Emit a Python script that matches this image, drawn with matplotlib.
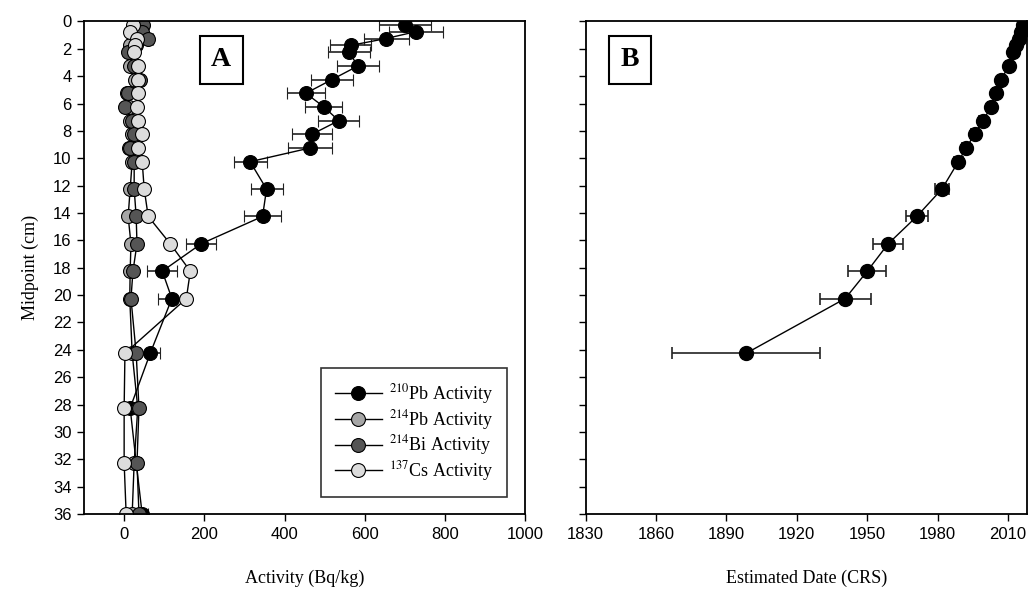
import matplotlib
matplotlib.use('Agg')
import matplotlib.pyplot as plt
from matplotlib.lines import Line2D

plt.rcParams['font.family'] = ['Liberation Serif', 'DejaVu Serif']
plt.rcParams['mathtext.fontset'] = 'stix'

# sample midpoints (cm)
depth = [0.25, 0.75, 1.25, 1.75, 2.25, 3.25, 4.25, 5.25, 6.25, 7.25, 8.25,
         9.25, 10.25, 12.25, 14.25, 16.25, 18.25, 20.25, 24.25, 28.25, 32.25, 36]

# activities (Bq/kg)
pb210 = [700, 727, 653, 565, 560, 583, 518, 453, 498, 535, 468, 463, 314, 355,
         345, 192, 95, 119, 65, 15, 30, 45]
pb210_err = [65, 68, 56, 51, 52, 52, 52, 48, 46, 51, 50, 54, 41, 40, 45, 37,
             37, 34, 25, 10, 12, 15]
pb214 = [30, 40, 28, 15, 18, 15, 27, 7, 12, 15, 20, 12, 20, 15, 10, 17, 15, 14,
         20, 34, 25, 20]
pb214_err = [10, 10, 10, 9, 9, 9, 10, 8, 8, 9, 9, 8, 9, 9, 8, 9, 9, 8, 9, 10, 9, 9]
bi214 = [47, 45, 60, 30, 10, 25, 40, 10, 2, 20, 25, 15, 25, 25, 30, 32, 22, 17,
         30, 37, 32, 37]
bi214_err = [10, 10, 12, 9, 8, 9, 10, 8, 8, 9, 9, 8, 9, 9, 9, 9, 9, 8, 9, 10, 10, 10]
cs137 = [22, 15, 32, 27, 25, 35, 35, 35, 32, 35, 45, 35, 45, 50, 60, 115, 165,
         155, 2, 0, 0, 5]
cs137_err = [6, 6, 7, 6, 6, 7, 7, 7, 7, 7, 8, 7, 8, 8, 8, 9, 9, 9, 5, 5, 5, 5]

# CRS model dates
crs_depth = [0.25, 0.75, 1.25, 1.75, 2.25, 3.25, 4.25, 5.25, 6.25, 7.25, 8.25,
             9.25, 10.25, 12.25, 14.25, 16.25, 18.25, 20.25, 24.25]
crs_year = [2016.5, 2015.5, 2014.5, 2013.5, 2012.3, 2010.3, 2007.0, 2004.9,
            2002.8, 1999.2, 1995.7, 1992.1, 1988.8, 1981.8, 1971.1, 1958.9,
            1950.0, 1940.6, 1898.4]
crs_err = [0.5, 0.5, 0.6, 0.7, 0.8, 1.0, 1.0, 1.2, 1.3, 1.4, 1.5, 1.7, 2.0, 3.0,
           4.6, 6.5, 8.0, 10.8, 31.5]

series = [
    (pb210, pb210_err, 'black', r'$^{210}$Pb Activity'),
    (pb214, pb214_err, '#a6a6a6', r'$^{214}$Pb Activity'),
    (bi214, bi214_err, '#555555', r'$^{214}$Bi Activity'),
    (cs137, cs137_err, '#dcdcdc', r'$^{137}$Cs Activity'),
]

tick_font = ['Liberation Sans Narrow', 'Liberation Sans', 'DejaVu Sans']

fig = plt.figure(figsize=(10.31, 5.95), dpi=100)
axA = fig.add_axes([0.0815, 0.136, 0.428, 0.828])
axB = fig.add_axes([0.568, 0.136, 0.428, 0.828])

handles = []
for vals, errs, col, lab in series:
    axA.errorbar(vals, depth, xerr=errs, fmt='-o', color='black', lw=1.0,
                 ecolor='#222222', elinewidth=1.2, capsize=4, capthick=1.2,
                 ms=10, mfc=col, mec='black', mew=0.8)
    handles.append(Line2D([], [], color='black', lw=1.0, marker='o', ms=10,
                          mfc=col, mec='black', mew=0.8, label=lab))

axA.set_xlim(-100, 1000)
axA.set_xticks(range(0, 1001, 200))
axA.set_xlabel('Activity (Bq/kg)', fontsize=13, labelpad=20)
axA.set_ylabel('Midpoint (cm)', fontsize=13, labelpad=10)
leg = axA.legend(handles=handles, loc='lower right',
                 bbox_to_anchor=(0.958, 0.035), fontsize=13,
                 frameon=True, fancybox=False, edgecolor='black',
                 handlelength=2.6, handletextpad=0.4, borderpad=0.75,
                 labelspacing=0.1, borderaxespad=0)
leg.get_frame().set_linewidth(1.2)
axA.text(0.311, 0.922, 'A', transform=axA.transAxes, fontsize=20,
         fontweight='bold', ha='center', va='center',
         bbox=dict(boxstyle='square,pad=0.42', fc='white', ec='black', lw=1.5))

axB.errorbar(crs_year, crs_depth, xerr=crs_err, fmt='-o', color='black', lw=1.0,
             ecolor='#222222', elinewidth=1.2, capsize=4, capthick=1.2,
             ms=10, mfc='black', mec='black')
axB.set_xlim(1830, 2018)
axB.set_xticks(range(1830, 2011, 30))
axB.set_xlabel('Estimated Date (CRS)', fontsize=13, labelpad=20)
axB.tick_params(axis='y', labelleft=False)
axB.text(0.1, 0.922, 'B', transform=axB.transAxes, fontsize=20,
         fontweight='bold', ha='center', va='center',
         bbox=dict(boxstyle='square,pad=0.42', fc='white', ec='black', lw=1.5))

for ax in (axA, axB):
    ax.set_ylim(36, 0)
    ax.set_yticks(range(0, 37, 2))
    ax.tick_params(direction='out', length=5, width=1.0, pad=4)
    for lbl in ax.get_xticklabels() + ax.get_yticklabels():
        lbl.set_family(tick_font)
        lbl.set_fontsize(12)
    for sp in ax.spines.values():
        sp.set_linewidth(1.3)

fig.savefig('out.png', dpi=100)
